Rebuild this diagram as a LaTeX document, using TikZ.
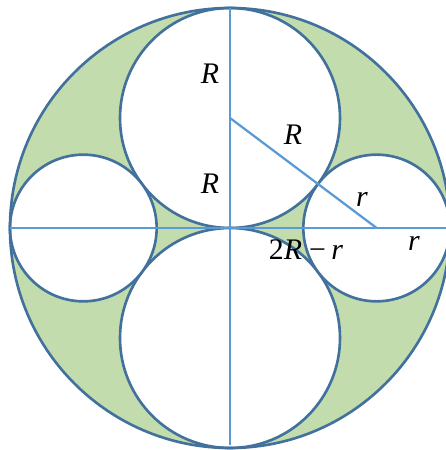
\documentclass[tikz,border=0pt]{standalone}
\usepackage{fontspec}
\setmainfont{Liberation Serif}
\usetikzlibrary{positioning}
\definecolor{ringgreen}{HTML}{C3DCAE}
\definecolor{rimblue}{HTML}{41719C}
\definecolor{axisblue}{HTML}{5B9BD5}

\begin{document}
\begin{tikzpicture}[x=0.02cm, y=0.02cm,
  rim/.style={draw=rimblue, line width=1.5pt},
  hole/.style={rim, fill=white},
  axis/.style={draw=axisblue, line width=1.3pt},
  lbl/.style={font=\fontsize{17}{20}\selectfont, inner sep=0pt}
]
  \useasboundingbox (-230,-222) rectangle (216,228);
  \coordinate (O) at (0,0);
  \coordinate (topc) at (0,110);
  \coordinate (botc) at (0,-110);
  \coordinate (leftc) at (-146.67,0);
  \coordinate (rightc) at (146.67,0);
  \coordinate (north) at (0,220);
  \coordinate (south) at (0,-217);
  \coordinate (west) at (-220,0);
  \coordinate (east) at (220,0);
  % shaded ring and the four holes
  \fill[ringgreen] (O) circle (220);
  \draw[hole] (topc) circle (110);
  \draw[hole] (botc) circle (110);
  \draw[hole] (leftc) circle (73.33);
  \draw[hole] (rightc) circle (73.33);
  \draw[rim] (O) circle (220);
  % axes and the centre line
  \draw[axis] (north) -- (south);
  \draw[axis] (west) -- (east);
  \draw[axis] (topc) -- (rightc);
  % labels
  \node[lbl] (rtop) at (-20,154) {\textit{R}};
  \node[lbl] (rmid) at (-20,44) {\textit{R}};
  \node[lbl] (rdiag) at (63,93) {\textit{R}};
  \node[lbl] (sdiag) at (132,29) {\textit{r}};
  \node[lbl] (dist) at (76,-22) {2\textit{R}\kern4pt−\kern3pt\textit{r}};
  \node[lbl] (sright) at (184,-15) {\textit{r}};
\end{tikzpicture}
\end{document}
